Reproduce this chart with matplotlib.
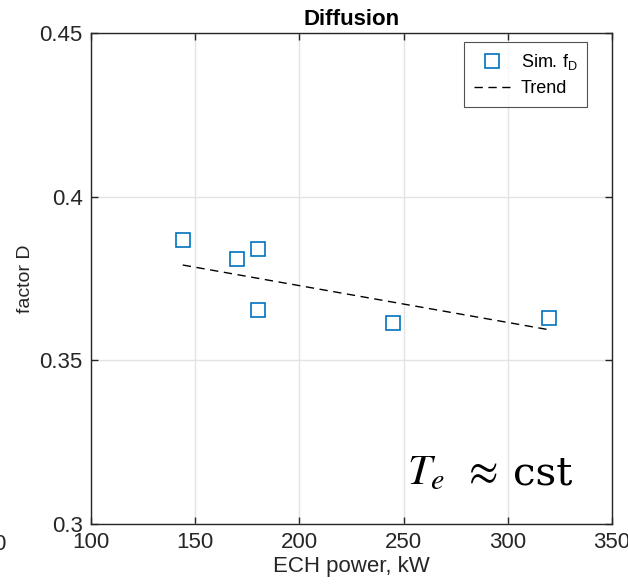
import matplotlib
matplotlib.use("Agg")
import matplotlib.pyplot as plt

# Data
ech_power = [144, 170, 180, 180, 245, 320]
factor_d = [0.3868, 0.3810, 0.3840, 0.3654, 0.3614, 0.3629]
trend_x = [144, 320]
trend_y = [0.3791, 0.3593]

xticks = [100, 150, 200, 250, 300, 350]
yticks = [0.3, 0.35, 0.4, 0.45]
ytick_labels = ["0.3", "0.35", "0.4", "0.45"]

plt.rcParams['font.family'] = ['Liberation Sans', 'DejaVu Sans']

fig = plt.figure(figsize=(6.28, 5.86), dpi=100)
ax = fig.add_axes([0.145, 0.106, 0.8295, 0.8377])

blue = '#0072BD'
ax.plot(ech_power, factor_d, linestyle='none', marker='s', markersize=10,
        markerfacecolor='none', markeredgecolor=blue, markeredgewidth=1.2,
        label=r'Sim. f$_\mathregular{D}$', zorder=3)
ax.plot(trend_x, trend_y, linestyle=(0, (6, 4)), color='black', linewidth=1.0,
        label='Trend', zorder=2)

ax.set_xlim(100, 350)
ax.set_ylim(0.3, 0.45)
ax.set_xticks(xticks)
ax.set_yticks(yticks)
ax.set_yticklabels(ytick_labels)
ax.grid(True, color='#e3e3e3', linewidth=1.0)
ax.set_axisbelow(True)

for s in ax.spines.values():
    s.set_color('#262626')
    s.set_linewidth(1.0)
ax.tick_params(direction='in', length=5, width=1.0, colors='#262626',
               labelsize=16, top=True, right=True, labelcolor='#262626', pad=6)

ax.set_xlabel('ECH power, kW', fontsize=16, color='#262626', labelpad=2)
ax.set_ylabel('factor D', fontsize=14, color='#262626', labelpad=4)
ax.set_title('Diffusion', fontsize=16, fontweight='bold', color='black', pad=6)

leg = ax.legend(loc='upper right', bbox_to_anchor=(0.9525, 0.9815), fontsize=13,
                frameon=True, fancybox=False, edgecolor='#262626',
                handlelength=2.0, borderpad=0.55, labelspacing=0.45,
                handletextpad=0.6, borderaxespad=0.0)
leg.get_frame().set_linewidth(0.8)

ax.text(0.606, 0.081, r'$T_e$', transform=ax.transAxes, fontsize=31,
        math_fontfamily='stix', ha='left', va='baseline')
ax.text(0.712, 0.081, r'$\approx$', transform=ax.transAxes, fontsize=31,
        math_fontfamily='stix', ha='left', va='baseline')
ax.text(0.81, 0.081, 'cst', transform=ax.transAxes, fontsize=29,
        family=['DejaVu Serif'], ha='left', va='baseline')

# fragment of neighbouring label at the left edge
fig.text(0.008, 0.07, '0', fontsize=16, color='#262626', ha='right', va='center')

fig.savefig('out.png', dpi=100)
